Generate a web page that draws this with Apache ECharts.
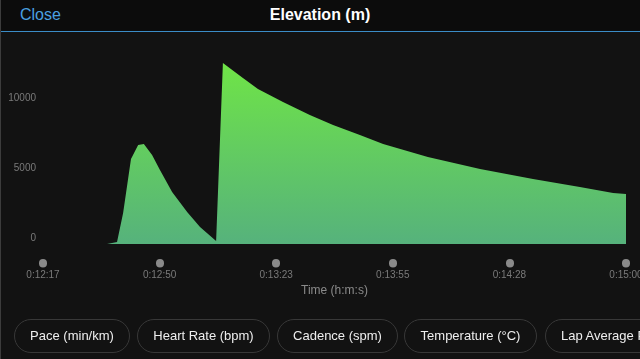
<!DOCTYPE html>
<html>
<head>
<meta charset="utf-8">
<script src="https://cdn.jsdelivr.net/npm/echarts@6/dist/echarts.min.js"></script>
<style>
  html, body { margin: 0; padding: 0; width: 640px; height: 359px; overflow: hidden; background: #121212; font-family: "Liberation Sans", Arial, sans-serif; }
  #wrap { position: relative; width: 640px; height: 359px; overflow: hidden; }
  #chart { position: absolute; left: 0; top: 0; width: 700px; height: 359px; }
  #header { position: absolute; left: 0; top: 0; width: 640px; height: 31px; background: #0c0c0c; border-bottom: 1px solid #3b8cc6; }
  #close { position: absolute; left: 20px; top: 6px; font-size: 16px; color: #4aa0e0; }
  #title { position: absolute; left: 0; width: 640px; top: 6px; text-align: center; font-size: 16px; font-weight: bold; color: #ffffff; }
  .pill { position: absolute; top: 319px; height: 32px; border: 1px solid #383838; border-radius: 17px; color: #eeeeee; font-size: 13px; line-height: 32px; text-align: center; white-space: nowrap; box-sizing: content-box; }
  #edge { position: absolute; left: 0; top: 0; width: 1px; height: 359px; background: #3c3c3c; }
</style>
</head>
<body>
<div id="wrap">
  <div id="chart"></div>
  <div id="header"><div id="close">Close</div><div id="title">Elevation (m)</div></div>
  <div id="pills"></div>
  <div id="edge"></div>
</div>
<script>
// Elapsed time (seconds) and elevation (m)
const timeSec = [755.3, 758.1, 759.8, 762.0, 764.0, 765.6, 767.9, 770.1, 773.5, 777.7, 781.3, 785.8,
                 787.7, 793.3, 797.5, 804.5, 812.0, 818.5, 826.0, 832.5, 845.0, 859.6, 874.4, 887.5, 896.8, 900.4];
const elevation = [0, 143, 2214, 6071, 7071, 7143, 6357, 5286, 3714, 2286, 1214, 214,
                   12929, 11857, 11071, 10143, 9214, 8500, 7786, 7143, 6214, 5357, 4643, 4071, 3643, 3571];
const tickValues = [737.4, 770.0, 802.6, 835.2, 867.8, 900.4];
const tickLabels = ['0:12:17', '0:12:50', '0:13:23', '0:13:55', '0:14:28', '0:15:00'];
const buttons = ['Pace (min/km)', 'Heart Rate (bpm)', 'Cadence (spm)', 'Temperature (°C)', 'Lap Average Pace (min/km)'];

const pillLeft = [14, 137, 277, 404, 545];
const pillWidth = [114, 131, 119, 131, 200];
const pills = document.getElementById('pills');
buttons.forEach((b, i) => {
  const d = document.createElement('div');
  d.className = 'pill';
  d.style.left = pillLeft[i] + 'px';
  d.style.width = pillWidth[i] + 'px';
  if (i === 4) { d.style.textAlign = 'left'; d.style.paddingLeft = '15px'; d.style.width = (pillWidth[i] - 15) + 'px'; }
  d.textContent = b;
  pills.appendChild(d);
});

const chart = echarts.init(document.getElementById('chart'));
chart.setOption({
  backgroundColor: 'transparent',
  animation: false,
  grid: [
    { left: 43, width: 583, top: 34, height: 210, containLabel: false },
    { left: 43, width: 583, top: 262, height: 1, containLabel: false }
  ],
  xAxis: [{
    type: 'value',
    gridIndex: 0,
    min: tickValues[0],
    max: tickValues[tickValues.length - 1],
    axisLine: { show: false },
    splitLine: { show: false },
    axisTick: { show: false },
    axisLabel: { show: false }
  }, {
    type: 'value',
    gridIndex: 1,
    min: tickValues[0],
    max: tickValues[tickValues.length - 1],
    axisLine: { show: false },
    splitLine: { show: false },
    axisTick: {
      show: true,
      customValues: tickValues,
      length: 0.5,
      lineStyle: { color: '#8a8a8a', width: 8, cap: 'round' }
    },
    axisLabel: {
      customValues: tickValues,
      formatter: function (v) {
        const i = tickValues.findIndex(t => Math.abs(t - v) < 0.01);
        return i >= 0 ? tickLabels[i] : '';
      },
      color: '#7a7a7a',
      fontSize: 10,
      margin: 7,
      fontFamily: 'Liberation Sans'
    },
    name: 'Time (h:m:s)',
    nameLocation: 'middle',
    nameGap: 22,
    nameTextStyle: { color: '#8a8a8a', fontSize: 12, fontFamily: 'Liberation Sans' }
  }],
  yAxis: [{
    type: 'value',
    gridIndex: 0,
    min: 0,
    max: 15000,
    interval: 5000,
    axisLine: { show: false },
    axisTick: { show: false },
    splitLine: { show: false },
    axisLabel: {
      showMaxLabel: false,
      formatter: function (v) { return String(v); },
      color: '#7a7a7a',
      fontSize: 10,
      margin: 7,
      verticalAlign: 'bottom',
      padding: [0, 0, 1, 0],
      fontFamily: 'Liberation Sans'
    }
  }, {
    type: 'value',
    gridIndex: 1,
    min: 0,
    max: 1,
    show: false
  }],
  series: [{
    type: 'line',
    xAxisIndex: 0,
    yAxisIndex: 0,
    data: timeSec.map((t, i) => [t, elevation[i]]),
    showSymbol: false,
    smooth: false,
    lineStyle: { width: 0 },
    areaStyle: {
      opacity: 1,
      color: new echarts.graphic.LinearGradient(0, 0, 0, 1, [
        { offset: 0, color: '#6fe447' },
        { offset: 1, color: '#56b27c' }
      ])
    }
  }]
});
</script>
</body>
</html>
